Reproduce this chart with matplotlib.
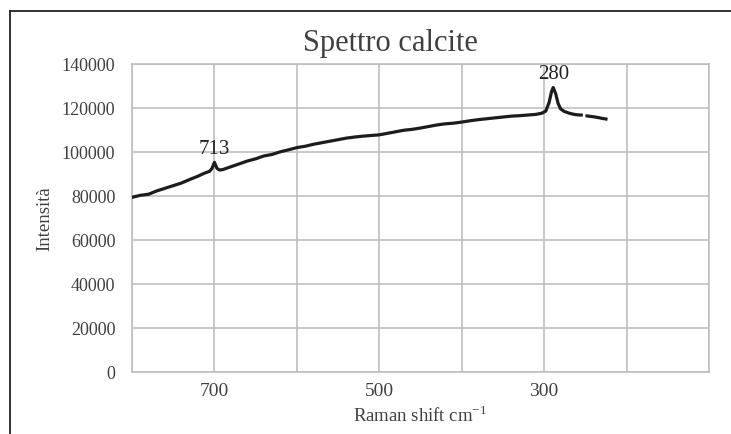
import numpy as np
import matplotlib
matplotlib.use("Agg")
import matplotlib.pyplot as plt

# Raman shift (cm-1) and intensity; NaN = gap in the trace
shift = [800, 790, 780, 770, 760, 750, 740, 730, 720, 712, 706, 703, 700, 697,
         694, 690, 680, 670, 660, 650, 640, 630, 620, 610, 600, 590, 580, 570,
         560, 550, 540, 530, 520, 510, 500, 490, 480, 470, 460, 450, 440, 430,
         420, 410, 400, 390, 380, 370, 360, 350, 340, 330, 320, 310, 303, 298,
         294, 291, 289, 286, 283, 280, 276, 270, 265, 260, 255, 252,
         248, 240, 235, 230, 225]
intensity = [79400, 80300, 80800, 82300, 83500, 84700, 85900, 87500, 89000,
             90400, 91200, 92500, 95300, 92600, 91800, 92000, 93300, 94600,
             95900, 96900, 98200, 98900, 100100, 101000, 102000, 102600,
             103500, 104200, 104900, 105600, 106300, 106800, 107200, 107500,
             107800, 108500, 109200, 109900, 110300, 110900, 111600, 112300,
             112800, 113100, 113600, 114200, 114700, 115100, 115500, 115900,
             116300, 116500, 116800, 117100, 117600, 118600, 122500, 127500,
             129300, 126500, 122000, 119600, 118500, 117700, 117200, 116900,
             116800, np.nan, 116400, 116000, 115700, 115300, 115000]

peaks = [(700, 95300, "713"), (289, 129300, "280")]
x_ticks = [700, 500, 300]
x_grid = [800, 700, 600, 500, 400, 300, 200, 100]
y_ticks = list(range(0, 140001, 20000))

txt = "#404040"
grid_c = "#bfbfbf"
plt.rcParams["font.family"] = ["Liberation Serif", "DejaVu Serif"]

fig = plt.figure(figsize=(7.31, 4.35), dpi=100)
ax = fig.add_axes([132 / 731, 1 - 373 / 435, (709 - 132) / 731, (373 - 65) / 435])

# outer frame (top and left edges only)
fig.add_artist(plt.Line2D([10 / 731, 1], [1 - 12 / 435, 1 - 12 / 435], color="#222222", lw=1.3))
fig.add_artist(plt.Line2D([10 / 731, 10 / 731], [1 - 12 / 435, 0], color="#222222", lw=1.3))

for gx in x_grid:
    ax.axvline(gx, color=grid_c, lw=1.2, zorder=1)
ax.plot(shift, intensity, color="#1c1c1c", lw=2.3, solid_joinstyle="round", zorder=3)

ax.set_xlim(800, 100)
ax.set_ylim(0, 140000)
ax.set_xticks(x_ticks)
ax.set_yticks(y_ticks)
ax.grid(True, which="major", axis="y", color=grid_c, lw=1.2)
ax.set_axisbelow(True)
for s in ax.spines.values():
    s.set_color(grid_c)
    s.set_linewidth(1.2)
ax.tick_params(which="both", length=0, labelcolor=txt)
ax.tick_params(axis="x", labelsize=14, pad=7)
ax.tick_params(axis="y", labelsize=13, pad=12)

for px, py, lab in peaks:
    ax.annotate(lab, (px, py), xytext=(0, 3), textcoords="offset points",
                ha="center", va="bottom", fontsize=15, color="#222222")

fig.text(390 / 731, 1 - 44 / 435, "Spettro calcite", fontsize=22, color=txt,
         ha="center", va="center")
ax.set_xlabel("Raman shift cm$^{\\mathregular{-1}}$", fontsize=13.5, color=txt, labelpad=4)
ax.set_ylabel("Intensità", fontsize=13.5, color=txt, labelpad=6)

fig.savefig("out.png", dpi=100)
